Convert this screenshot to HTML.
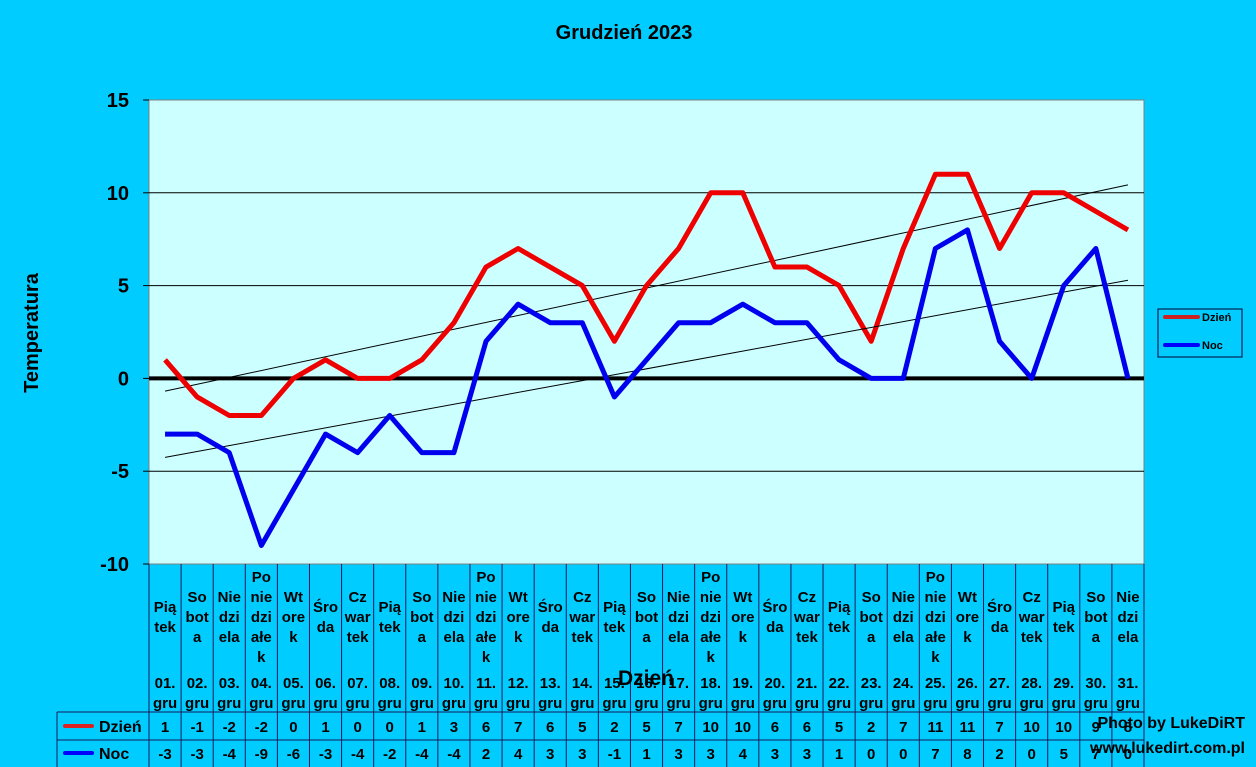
<!DOCTYPE html>
<html><head><meta charset="utf-8"><style>
body{margin:0;background:#00ccff;}
svg{display:block;font-family:"Liberation Sans",Arial,sans-serif;font-weight:bold;}
</style></head><body>
<svg id="c" width="1256" height="767">
<rect width="1256" height="767" fill="#00ccff"/>
<text x="624" y="39" font-size="20" text-anchor="middle">Grudzień 2023</text>
<rect x="149" y="100" width="995" height="464" fill="#ccffff" stroke="#808080"/>
<g id="grid"></g><g id="yt"></g><g id="tbl"></g><g id="series"></g>
<text x="38" y="333" font-size="20" text-anchor="middle" transform="rotate(-90 38 333)">Temperatura</text>
<text x="646" y="685" font-size="21" text-anchor="middle">Dzień</text>
<g>
<rect x="1158" y="309" width="84" height="48" fill="#00ccff" stroke="#003"/>
<line x1="1165" y1="317" x2="1198" y2="317" stroke="#cc2222" stroke-width="4" stroke-linecap="round"/>
<text x="1202" y="321" font-size="11">Dzień</text>
<line x1="1165" y1="345" x2="1198" y2="345" stroke="#0000ff" stroke-width="4" stroke-linecap="round"/>
<text x="1202" y="349" font-size="11">Noc</text>
</g>
<text x="1245" y="728" font-size="16" text-anchor="end">Photo by LukeDiRT</text>
<text x="1245" y="753" font-size="16" text-anchor="end">www.lukedirt.com.pl</text>
</svg>
<script>
const days=[["Pią","tek"],["So","bot","a"],["Nie","dzi","ela"],["Po","nie","dzi","ałe","k"],["Wt","ore","k"],["Śro","da"],["Cz","war","tek"]];
const dates=[];for(let i=1;i<=31;i++)dates.push((i<10?"0":"")+i+".");
const dzien=[1,-1,-2,-2,0,1,0,0,1,3,6,7,6,5,2,5,7,10,10,6,6,5,2,7,11,11,7,10,10,9,8];
const noc=[-3,-3,-4,-9,-6,-3,-4,-2,-4,-4,2,4,3,3,-1,1,3,3,4,3,3,1,0,0,7,8,2,0,5,7,0];
const yTicks=[-10,-5,0,5,10,15];
const NS="http://www.w3.org/2000/svg";
const X0=149,X1=1144,Y0=100,Y1=564,N=31,cw=(X1-X0)/N;
const xs=i=>X0+cw*(i+0.5);
const ys=v=>Y1-(v+10)/25*(Y1-Y0);
function mk(p,t,a,txt){const e=document.createElementNS(NS,t);for(const k in a)e.setAttribute(k,a[k]);if(txt!==undefined)e.textContent=txt;p.appendChild(e);return e;}
const g=document.getElementById('grid'),yt=document.getElementById('yt'),tb=document.getElementById('tbl'),se=document.getElementById('series');
yTicks.forEach(v=>{
  if(v!==0&&v!==-10&&v!==15){const l=mk(g,'line',{x1:X0,x2:X1,y1:ys(v),y2:ys(v),stroke:'#000','stroke-width':1});
  
  }
  mk(yt,'line',{x1:X0-6,x2:X0,y1:ys(v),y2:ys(v),stroke:'#000'});
  const t=mk(yt,'text',{x:X0-20,y:ys(v)+7,'font-size':20,'text-anchor':'end'},v);
  
  
});
const zl=mk(g,'line',{x1:X0,x2:X1,y1:ys(0),y2:ys(0),stroke:'#000','stroke-width':4});


const TC='#1a1a5a';
mk(tb,'line',{x1:X0,x2:X0,y1:Y1,y2:767,stroke:TC});
mk(tb,'line',{x1:57,x2:X1,y1:712,y2:712,stroke:TC});
mk(tb,'line',{x1:57,x2:X1,y1:740,y2:740,stroke:TC});
mk(tb,'line',{x1:57,x2:57,y1:712,y2:767,stroke:TC});
mk(tb,'line',{x1:65,x2:92,y1:726,y2:726,stroke:'#dd2222','stroke-width':4,'stroke-linecap':'round'});
mk(tb,'text',{x:99,y:732,'font-size':16},'Dzień');
mk(tb,'line',{x1:65,x2:92,y1:753,y2:753,stroke:'#0000ff','stroke-width':4,'stroke-linecap':'round'});
mk(tb,'text',{x:99,y:759,'font-size':16},'Noc');
for(let i=0;i<N;i++){
  const xr=X0+cw*(i+1),xc=xs(i);
  mk(tb,'line',{x1:xr,x2:xr,y1:Y1,y2:767,stroke:TC});
  const parts=days[i%7];
  const top=617-(parts.length-1)*10;
  parts.forEach((p,k)=>mk(tb,'text',{x:xc,y:top+k*20+5,'font-size':15,'text-anchor':'middle'},p));
  const d=mk(tb,'text',{x:xc,y:688,'font-size':15,'text-anchor':'middle'},dates[i]);
  
  
  mk(tb,'text',{x:xc,y:708,'font-size':15,'text-anchor':'middle'},'gru');
  mk(tb,'text',{x:xc,y:732,'font-size':15,'text-anchor':'middle'},dzien[i]);
  mk(tb,'text',{x:xc,y:759,'font-size':15,'text-anchor':'middle'},noc[i]);
}
function trend(arr){const n=arr.length;let sx=0,sy=0,sxy=0,sxx=0;arr.forEach((v,i)=>{sx+=i;sy+=v;sxy+=i*v;sxx+=i*i;});
  const b=(n*sxy-sx*sy)/(n*sxx-sx*sx),a=(sy-b*sx)/n;return [a,a+b*(n-1)];}
[[dzien,'#ee0000','series-dzien'],[noc,'#0000ee','series-noc']].forEach(([arr,col,name])=>{
  const [a,b]=trend(arr);
  const t=mk(se,'line',{x1:xs(0),y1:ys(a),x2:xs(N-1),y2:ys(b),stroke:'#000','stroke-width':1});
  
  
  const p=mk(se,'polyline',{points:arr.map((v,i)=>xs(i)+','+ys(v)).join(' '),fill:'none',stroke:col,'stroke-width':5,'stroke-linejoin':'round'});
  
  
});
</script>
</body></html>
